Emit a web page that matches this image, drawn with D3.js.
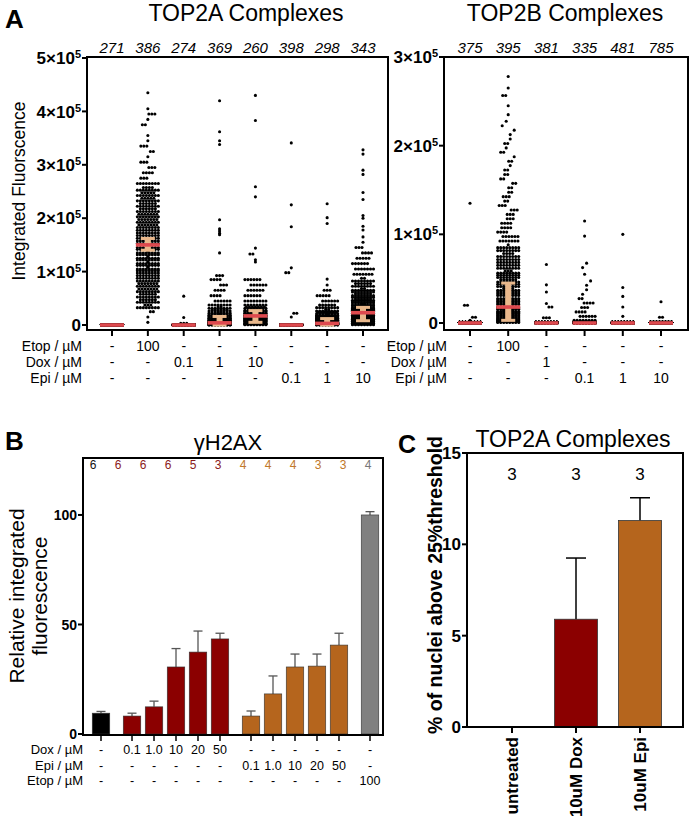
<!DOCTYPE html>
<html><head><meta charset="utf-8">
<script src="https://cdn.jsdelivr.net/npm/d3@7"></script>
<style>body{margin:0;background:#fff} svg text{font-family:"Liberation Sans",Arial,sans-serif}</style>
</head><body><svg id="c" width="690" height="816"></svg>
<script>
// ---------------- DATA ----------------
// Panel A, TOP2A complexes (values in thousands of integrated fluorescence units)
const top2aGroups = ["untreated","Etop100","Dox0.1","Dox1","Dox10","Epi0.1","Epi1","Epi10"];
const top2aN = [271,386,274,369,260,398,298,343];
const top2aMedian = [0,150,0,4,17,0,3,23];
const top2aCILow  = [0,140,0,0,5,0,0,8];
const top2aCIHigh = [0,162,0,16,27,0,12,33];
// histograms: [low, high, count]
const top2aHist = [
  [[0,1,271]],
  [[0,10,1],[10,20,1],[20,30,2],[30,40,11],[40,50,14],[50,60,14],[60,70,15],[70,80,15],[80,90,16],[90,100,16],
   [100,110,17],[110,120,17],[120,130,17],[130,140,17],[140,150,17],[150,160,16],[160,170,16],[170,180,16],[180,190,15],[190,200,15],
   [200,210,15],[210,220,14],[220,230,14],[230,240,13],[240,250,13],[250,260,12],[260,270,8],[270,280,3],[280,290,4],[290,300,3],
   [300,310,3],[310,320,1],[320,330,2],[330,340,3],[340,350,1],[350,360,1],[370,380,2],[380,390,1],[390,400,3],[400,410,1],[430,440,1]],
  [[0,1,269],[2,4,3],[13,15,1],[53,55,1]],
  [[0,5,175],[5,10,50],[10,15,35],[15,20,25],[20,25,18],[25,30,14],[30,35,10],[35,40,8],[40,50,6],[50,60,4],[60,70,4],[70,80,3],[80,90,4],[90,95,3],
   [134,136,1],[168,170,1],[171,173,1],[175,177,1],[179,181,1],[196,198,1],[337,339,1],[344,346,1],[361,363,1],[419,421,1]],
  [[0,5,46],[5,10,40],[10,15,35],[15,20,30],[20,25,25],[25,30,20],[30,35,15],[35,40,8],[40,50,8],[50,60,6],[60,70,6],[70,80,6],[80,90,6],
   [117,119,1],[121,123,1],[132,134,2],[143,145,1],[239,241,1],[258,260,1],[382,384,1],[429,431,1]],
  [[0,1,389],[14,16,1],[21,23,2],[97,99,2],[106,108,1],[183,185,1],[224,226,1],[340,342,1]],
  [[0,5,130],[5,10,50],[10,15,35],[15,20,25],[20,25,15],[25,30,10],[30,35,8],[35,40,6],[40,50,6],[50,60,5],[60,70,3],[70,80,1],
   [85,87,1],[189,191,1],[200,202,1],[226,228,1]],
  [[0,5,29],[5,10,30],[10,15,30],[15,20,28],[20,25,26],[25,30,24],[30,35,20],[35,40,18],[40,50,30],[50,60,22],[60,70,18],[70,80,14],[80,90,10],[90,100,7],
   [100,110,7],[110,120,6],[120,130,5],[130,140,4],[140,150,3],
   [154,156,1],[164,166,1],[177,179,1],[184,186,1],[199,201,1],[204,206,1],[234,236,1],[247,249,1],[281,283,1],[289,291,1],[319,321,1],[327,329,1]]
];
const top2aEtop = ["-","100","-","-","-","-","-","-"];
const top2aDox  = ["-","-","0.1","1","10","-","-","-"];
const top2aEpi  = ["-","-","-","-","-","0.1","1","10"];
const top2aTicks = [0,100,200,300,400,500];

// Panel A, TOP2B complexes
const top2bGroups = ["untreated","Etop100","Dox1","Epi0.1","Epi1","Epi10"];
const top2bN = [375,395,381,335,481,785];
const top2bMedian = [0,18,0,0,0,0];
const top2bCILow  = [0,3,0,0,0,0];
const top2bCIHigh = [0,45,0,0,0,0];
const top2bHist = [
  [[0,1,369],[2,4,1],[5,8,2],[17,23,2],[134,136,1]],
  [[0,5,40],[5,10,32],[10,15,28],[15,20,25],[20,30,42],[30,40,36],[40,50,30],[50,60,27],[60,70,24],[70,80,20],[80,90,17],[90,100,13],
   [100,110,8],[110,120,7],[120,130,6],[130,140,5],[140,150,5],[150,160,4],[160,170,4],[170,180,3],[180,190,3],[190,200,3],
   [200,210,3],[210,220,2],[220,230,2],[230,240,1],[240,250,1],[255,258,2],[264,266,1],[277,279,1]],
  [[0,1,372],[4,8,3],[17,19,2],[21,23,1],[34,36,1],[42,44,1],[65,67,1]],
  [[0,1,299],[1,5,8],[5,10,6],[10,15,4],[15,20,3],[20,25,4],[25,30,2],[30,40,2],[40,50,2],[50,60,1],[60,70,2],[97,99,1],[114,116,1]],
  [[0,1,476],[6,9,1],[17,19,1],[29,31,1],[39,41,1],[99,101,1]],
  [[0,1,782],[5,8,2],[23,25,1]]
];
const top2bEtop = ["-","100","-","-","-","-"];
const top2bDox  = ["-","-","1","-","-","-"];
const top2bEpi  = ["-","-","-","0.1","1","10"];
const top2bTicks = [0,100,200,300];

// Panel B, gammaH2AX
const h2axGroupIdx = [0,1,1,1,1,1,2,2,2,2,2,3];
const h2axValues = [9.5,8.2,12.4,30.6,37.4,43.4,8.2,18.3,30.6,31.0,40.6,100];
const h2axErrTop = [10.3,9.5,15.0,39.0,47.0,46.0,10.5,26.5,36.5,36.5,46.0,101.5];
const h2axN = [6,6,6,6,5,3,4,4,4,3,3,4];
const h2axDox  = ["-","0.1","1.0","10","20","50","-","-","-","-","-","-"];
const h2axEpi  = ["-","-","-","-","-","-","0.1","1.0","10","20","50","-"];
const h2axEtop = ["-","-","-","-","-","-","-","-","-","-","-","100"];
const h2axTicks = [0,50,100];

// Panel C
const cCategories = ["untreated","10uM Dox","10uM Epi"];
const cValues = [0,5.9,11.3];
const cErrTop = [0,9.25,12.55];
const cN = [3,3,3];
const cTicks = [0,5,10,15];

// ---------------- STYLE ----------------
const groupColors = ["#000000","#8b0000","#b5651d","#808080"];
const countColors = ["#111111","#8b1a1a","#c0782a","#777777"];
const redLine = "#de4a4f", tan = "#e9b88c";

const svg = d3.select("#c");

function txt(g, x, y, s, o = {}) {
  const t = g.append("text").attr("x", x).attr("y", y).text(s)
    .attr("font-size", o.size || 14).attr("text-anchor", o.anchor || "middle")
    .attr("fill", o.fill || "#000");
  if (o.weight) t.attr("font-weight", o.weight);
  if (o.style) t.attr("font-style", o.style);
  return t;
}

function expLabel(g, x, y, v) {
  const t = g.append("text").attr("x", x).attr("y", y).attr("dy", "0.36em")
    .attr("text-anchor", "end").attr("font-weight", "bold").attr("font-size", 17);
  if (v === 0) { t.text("0"); return; }
  t.append("tspan").text((v / 100) + "\u00d710");
  t.append("tspan").attr("dy", -6).attr("font-size", 11).text("5");
}

// beeswarm layout from histogram bins (deterministic zig-zag for sparse bins)
function swarmPoints(hist, cx, y, maxCols, dx) {
  const pts = [];
  hist.forEach(([lo, hi, n], j) => {
    const y0 = y(lo), y1 = y(hi), h = Math.abs(y0 - y1);
    const rowsAvail = Math.max(1, Math.floor(h / 3));
    const cols = Math.min(maxCols, Math.ceil(n / rowsAvail));
    const rows = Math.ceil(n / cols);
    const room = (maxCols - cols) * dx / 2;
    const shift = cols < maxCols && n > 1 ? ((j % 3) - 1) * Math.min(4, room) : 0;
    for (let k = 0; k < n; k++) {
      const r = Math.floor(k / cols), c = k % cols;
      const inRow = (r === rows - 1) ? n - r * cols : cols;
      const alt = (cols < maxCols && rows > 1) ? ((r % 2) ? 1 : -1) * Math.min(2, room / 2) : 0;
      pts.push([cx + shift + alt + (c - (inRow - 1) / 2) * dx, y0 - (r + 0.5) / rows * h]);
    }
  });
  return pts;
}

function scatterPanel(cfg) {
  const g = svg.append("g");
  const { x, y, groups, hist, med, lo, hi, frame } = cfg;
  groups.forEach((grp, i) => {
    const pts = swarmPoints(hist[i], x(grp), y, 8, 3);
    g.append("g").selectAll("circle").data(pts).join("circle")
      .attr("cx", d => d[0]).attr("cy", d => d[1]).attr("r", 1.55).attr("fill", "#000");
    if (hi[i] - lo[i] > 0) {
      const cx = x(grp);
      g.append("rect").attr("x", cx - 3).attr("width", 6).attr("y", y(hi[i])).attr("height", y(lo[i]) - y(hi[i])).attr("fill", tan);
      g.append("rect").attr("x", cx - 7).attr("width", 14).attr("y", y(hi[i]) - 1.5).attr("height", 3).attr("fill", tan);
      g.append("rect").attr("x", cx - 7).attr("width", 14).attr("y", y(lo[i]) - 1.5).attr("height", 3).attr("fill", tan);
    }
    g.append("rect").attr("x", x(grp) - 12).attr("width", 24).attr("y", y(med[i]) - 1.8).attr("height", 3.6).attr("fill", redLine);
    txt(g, x(grp), 53, cfg.n[i], { size: 15, style: "italic" });
  });
  g.append("rect").attr("x", frame.l).attr("y", frame.t).attr("width", frame.r - frame.l).attr("height", frame.b - frame.t)
    .attr("fill", "none").attr("stroke", "#000").attr("stroke-width", 2);
  cfg.ticks.forEach(v => {
    g.append("line").attr("x1", frame.l - 5).attr("x2", frame.l).attr("y1", y(v)).attr("y2", y(v)).attr("stroke", "#000").attr("stroke-width", 2);
    expLabel(g, frame.l - 6, y(v), v);
  });
  groups.forEach(grp => {
    g.append("line").attr("x1", x(grp)).attr("x2", x(grp)).attr("y1", frame.b).attr("y2", frame.b + 6).attr("stroke", "#000").attr("stroke-width", 2);
  });
  const rows = [["Etop / \u00b5M", cfg.etop, 351], ["Dox / \u00b5M", cfg.dox, 367], ["Epi / \u00b5M", cfg.epi, 383]];
  rows.forEach(([lab, vals, yy]) => {
    txt(g, cfg.labelX, yy, lab, { size: 14, anchor: "end" });
    groups.forEach((grp, i) => txt(g, x(grp), yy, vals[i], { size: 14 }));
  });
}

// ---- Panel A titles
txt(svg, 5, 28, "A", { size: 26, weight: "bold", anchor: "start" });
txt(svg, 246, 21, "TOP2A Complexes", { size: 23 });
txt(svg, 565, 21, "TOP2B Complexes", { size: 23 });
svg.append("text").attr("transform", "translate(25,191) rotate(-90)").attr("text-anchor", "middle")
  .attr("font-size", 17.5).text("Integrated Fluorscence");

scatterPanel({
  x: d3.scalePoint().domain(top2aGroups).range([112, 363]),
  y: d3.scaleLinear().domain([0, 500]).range([325, 58]),
  groups: top2aGroups, hist: top2aHist, med: top2aMedian, lo: top2aCILow, hi: top2aCIHigh, n: top2aN,
  frame: { l: 87, t: 57, r: 388, b: 330 }, ticks: top2aTicks,
  etop: top2aEtop, dox: top2aDox, epi: top2aEpi, labelX: 82
});
scatterPanel({
  x: d3.scalePoint().domain(top2bGroups).range([470, 661]),
  y: d3.scaleLinear().domain([0, 300]).range([323, 57]),
  groups: top2bGroups, hist: top2bHist, med: top2bMedian, lo: top2bCILow, hi: top2bCIHigh, n: top2bN,
  frame: { l: 444, t: 57, r: 688, b: 330 }, ticks: top2bTicks,
  etop: top2bEtop, dox: top2bDox, epi: top2bEpi, labelX: 447
});

// ---- Panel B
(function () {
  const g = svg.append("g");
  txt(g, 5, 450, "B", { size: 26, weight: "bold", anchor: "start" });
  txt(g, 228, 450, "\u03b3H2AX", { size: 22 });
  const slot = h2axValues.map((v, i) => i + 0.41 * h2axGroupIdx[i]);
  const x = d3.scaleLinear().domain([0, 11 + 0.41 * 3]).range([101, 370]);
  const y = d3.scaleLinear().domain([0, 126]).range([734, 458]);
  const bw = 17.5;
  h2axValues.forEach((v, i) => {
    const cx = x(slot[i]);
    g.append("line").attr("x1", cx).attr("x2", cx).attr("y1", y(v)).attr("y2", y(h2axErrTop[i])).attr("stroke", "#555").attr("stroke-width", 1.3);
    g.append("line").attr("x1", cx - 4.5).attr("x2", cx + 4.5).attr("y1", y(h2axErrTop[i])).attr("y2", y(h2axErrTop[i])).attr("stroke", "#555").attr("stroke-width", 1.3);
    g.append("rect").attr("x", cx - bw / 2).attr("width", bw).attr("y", y(v)).attr("height", y(0) - y(v))
      .attr("fill", groupColors[h2axGroupIdx[i]]).attr("stroke", "#333").attr("stroke-width", 0.6);
  });
  const xc = d3.scaleLinear().domain([0, 11]).range([93, 368]);
  h2axN.forEach((n, i) => txt(g, xc(i), 469, n, { size: 12, fill: countColors[h2axGroupIdx[i]] }));
  g.append("rect").attr("x", 83).attr("y", 458).attr("width", 300).attr("height", 277).attr("fill", "none").attr("stroke", "#000").attr("stroke-width", 2);
  h2axTicks.forEach(v => {
    g.append("line").attr("x1", 78).attr("x2", 83).attr("y1", y(v)).attr("y2", y(v)).attr("stroke", "#000").attr("stroke-width", 2);
    txt(g, 77, y(v), v, { size: 14, weight: "bold", anchor: "end" }).attr("dy", "0.36em");
  });
  h2axValues.forEach((v, i) => {
    const cx = x(slot[i]);
    g.append("line").attr("x1", cx).attr("x2", cx).attr("y1", 735).attr("y2", 741).attr("stroke", "#000").attr("stroke-width", 1.5);
  });
  [["Dox / \u00b5M", h2axDox, 754], ["Epi / \u00b5M", h2axEpi, 770], ["Etop / \u00b5M", h2axEtop, 785]].forEach(([lab, vals, yy]) => {
    txt(g, 83, yy, lab, { size: 13, anchor: "end" });
    vals.forEach((s, i) => txt(g, x(slot[i]), yy, s, { size: 12.5 }));
  });
  const t = g.append("text").attr("transform", "translate(0,596) rotate(-90)").attr("text-anchor", "middle").attr("font-size", 21);
  t.append("tspan").attr("x", 0).attr("y", 24).text("Relative integrated");
  t.append("tspan").attr("x", 0).attr("y", 47).text("fluorescence");
})();

// ---- Panel C
(function () {
  const g = svg.append("g");
  txt(g, 398, 453, "C", { size: 25, weight: "bold", anchor: "start" });
  txt(g, 573, 447, "TOP2A Complexes", { size: 23 });
  const x = d3.scalePoint().domain(cCategories).range([512, 640]);
  const y = d3.scaleLinear().domain([0, 15]).range([727, 453]);
  const bw = 43;
  const fills = [null, groupColors[1], groupColors[2]];
  cCategories.forEach((c, i) => {
    const cx = x(c);
    if (cValues[i] > 0) {
      g.append("line").attr("x1", cx).attr("x2", cx).attr("y1", y(cValues[i])).attr("y2", y(cErrTop[i])).attr("stroke", "#000").attr("stroke-width", 1.5);
      g.append("line").attr("x1", cx - 10).attr("x2", cx + 10).attr("y1", y(cErrTop[i])).attr("y2", y(cErrTop[i])).attr("stroke", "#000").attr("stroke-width", 1.5);
      g.append("rect").attr("x", cx - bw / 2).attr("width", bw).attr("y", y(cValues[i])).attr("height", y(0) - y(cValues[i]))
        .attr("fill", fills[i]).attr("stroke", "#333").attr("stroke-width", 0.8);
    }
    txt(g, cx, 480, cN[i], { size: 17 });
    g.append("line").attr("x1", cx).attr("x2", cx).attr("y1", 727).attr("y2", 733).attr("stroke", "#000").attr("stroke-width", 2);
    g.append("text").attr("transform", `translate(${cx},737) rotate(-90)`).attr("dy", "0.36em")
      .attr("text-anchor", "end").attr("font-weight", "bold").attr("font-size", 17).text(c);
  });
  g.append("rect").attr("x", 467).attr("y", 453).attr("width", 216).attr("height", 274).attr("fill", "none").attr("stroke", "#000").attr("stroke-width", 2);
  cTicks.forEach(v => {
    g.append("line").attr("x1", 462).attr("x2", 467).attr("y1", y(v)).attr("y2", y(v)).attr("stroke", "#000").attr("stroke-width", 2);
    txt(g, 461, y(v), v, { size: 17, weight: "bold", anchor: "end" }).attr("dy", "0.36em");
  });
  g.append("text").attr("transform", "translate(442,585) rotate(-90)").attr("text-anchor", "middle")
    .attr("font-weight", "bold").attr("font-size", 19.5).text("% of nuclei above 25%threshold");
})();
</script></body></html>
